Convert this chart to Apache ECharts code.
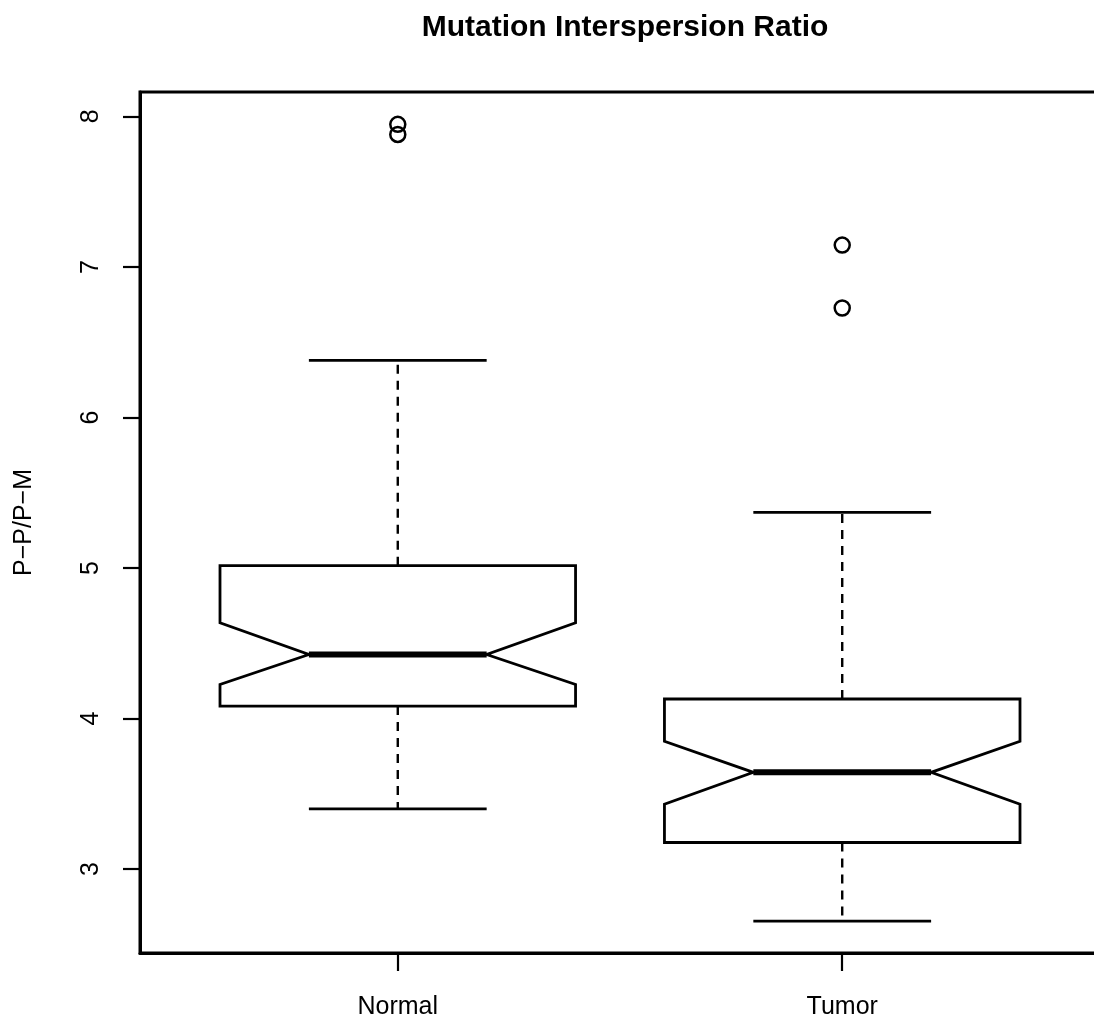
<!DOCTYPE html>
<html>
<head>
<meta charset="utf-8">
<title>Mutation Interspersion Ratio</title>
<script src="https://cdn.jsdelivr.net/npm/echarts@6/dist/echarts.min.js"></script>
<style>
  html, body { margin: 0; padding: 0; background: #fff; }
  #chart { width: 1094px; height: 1021px; }
</style>
</head>
<body>
<div id="chart"></div>
<script>
// Group names along the x axis
const categories = ['Normal', 'Tumor'];

// Five-number summaries per group
const whiskerLow  = [3.40, 2.655];
const q1          = [4.083, 3.177];
const median      = [4.426, 3.643];
const q3          = [5.016, 4.13];
const whiskerHigh = [6.38, 5.37];

// Notch limits around the median
const notchLow  = [4.227, 3.431];
const notchHigh = [4.636, 3.849];

// Points beyond the whiskers
const outliersNormal = [7.947, 7.88];
const outliersTumor  = [7.145, 6.727];

// Y axis ticks
const yTicks = [3, 4, 5, 6, 7, 8];

const FONT = '"Liberation Sans", Arial, Helvetica, sans-serif';

const boxData = categories.map((c, i) => [
  i + 1, whiskerLow[i], q1[i], median[i], q3[i], whiskerHigh[i], notchLow[i], notchHigh[i]
]);

const outlierData = [];
outliersNormal.forEach(v => outlierData.push([1, v]));
outliersTumor.forEach(v => outlierData.push([2, v]));

const HALF_BOX = 0.4;   // box half-width in x units
const HALF_NOTCH = 0.2; // median / cap half-width

function renderBox(params, api) {
  const x = api.value(0);
  const lo = api.value(1), b1 = api.value(2), md = api.value(3),
        b3 = api.value(4), hi = api.value(5), nl = api.value(6), nh = api.value(7);
  const P = (dx, v) => api.coord([x + dx, v]);
  const lineStyle = { stroke: '#000', lineWidth: 2.8, fill: null };
  const dashed = { stroke: '#000', lineWidth: 2.4, lineDash: [9, 7], fill: null };
  return {
    type: 'group',
    children: [
      // dashed whiskers
      { type: 'line', shape: { x1: P(0, b3)[0], y1: P(0, b3)[1], x2: P(0, hi)[0], y2: P(0, hi)[1] }, style: dashed },
      { type: 'line', shape: { x1: P(0, b1)[0], y1: P(0, b1)[1], x2: P(0, lo)[0], y2: P(0, lo)[1] }, style: dashed },
      // whisker caps
      { type: 'line', shape: { x1: P(-HALF_NOTCH, hi)[0], y1: P(0, hi)[1], x2: P(HALF_NOTCH, hi)[0], y2: P(0, hi)[1] }, style: lineStyle },
      { type: 'line', shape: { x1: P(-HALF_NOTCH, lo)[0], y1: P(0, lo)[1], x2: P(HALF_NOTCH, lo)[0], y2: P(0, lo)[1] }, style: lineStyle },
      // notched box
      {
        type: 'polygon',
        shape: {
          points: [
            P(-HALF_BOX, b3), P(HALF_BOX, b3), P(HALF_BOX, nh), P(HALF_NOTCH, md),
            P(HALF_BOX, nl), P(HALF_BOX, b1), P(-HALF_BOX, b1), P(-HALF_BOX, nl),
            P(-HALF_NOTCH, md), P(-HALF_BOX, nh)
          ]
        },
        style: { stroke: '#000', lineWidth: 2.8, fill: '#fff', lineJoin: 'miter' }
      },
      // median
      { type: 'line', shape: { x1: P(-HALF_NOTCH, md)[0], y1: P(0, md)[1], x2: P(HALF_NOTCH, md)[0], y2: P(0, md)[1] },
        style: { stroke: '#000', lineWidth: 6 } }
    ]
  };
}

const chart = echarts.init(document.getElementById('chart'), null, { renderer: 'canvas' });

chart.setOption({
  animation: false,
  backgroundColor: '#fff',
  title: {
    text: 'Mutation Interspersion Ratio',
    left: 620,
    textAlign: 'center',
    top: 8,
    textStyle: { fontFamily: FONT, fontSize: 30, fontWeight: 'bold', color: '#000' }
  },
  grid: {
    left: 140, top: 92, width: 960, height: 861,
    outerBoundsMode: 'none',
    containLabel: false,
    show: true, borderColor: '#000', borderWidth: 3, backgroundColor: 'transparent'
  },
  xAxis: {
    type: 'value',
    min: 0.42, max: 2.58,
    splitLine: { show: false },
    axisLine: { show: true, lineStyle: { color: '#000', width: 3 } },
    axisTick: { show: true, customValues: [1, 2], length: 18, lineStyle: { color: '#000', width: 2.2 } },
    axisLabel: {
      customValues: [1, 2],
      formatter: v => categories[Math.round(v) - 1] || '',
      margin: 42, fontFamily: FONT, fontSize: 25, color: '#000'
    }
  },
  yAxis: {
    type: 'value',
    min: 2.443, max: 8.162,
    name: 'P\u2212P/P\u2212M',
    nameLocation: 'middle',
    nameGap: 103,
    nameRotate: 90,
    nameTextStyle: { fontFamily: FONT, fontSize: 25, color: '#000' },
    splitLine: { show: false },
    axisLine: { show: true, lineStyle: { color: '#000', width: 3 } },
    axisTick: { show: true, customValues: yTicks, length: 17, lineStyle: { color: '#000', width: 2.2 } },
    axisLabel: {
      customValues: yTicks,
      rotate: 90,
      margin: 36, fontFamily: FONT, fontSize: 25, color: '#000'
    }
  },
  series: [
    {
      type: 'custom',
      renderItem: renderBox,
      data: boxData,
      encode: { x: 0, y: [1, 2, 3, 4, 5] },
      clip: false,
      z: 2
    },
    {
      type: 'scatter',
      data: outlierData,
      symbol: 'circle',
      symbolSize: 15,
      itemStyle: { color: 'rgba(255,255,255,0)', borderColor: '#000', borderWidth: 2.5, opacity: 1 },
      z: 3
    }
  ]
});
</script>
</body>
</html>
